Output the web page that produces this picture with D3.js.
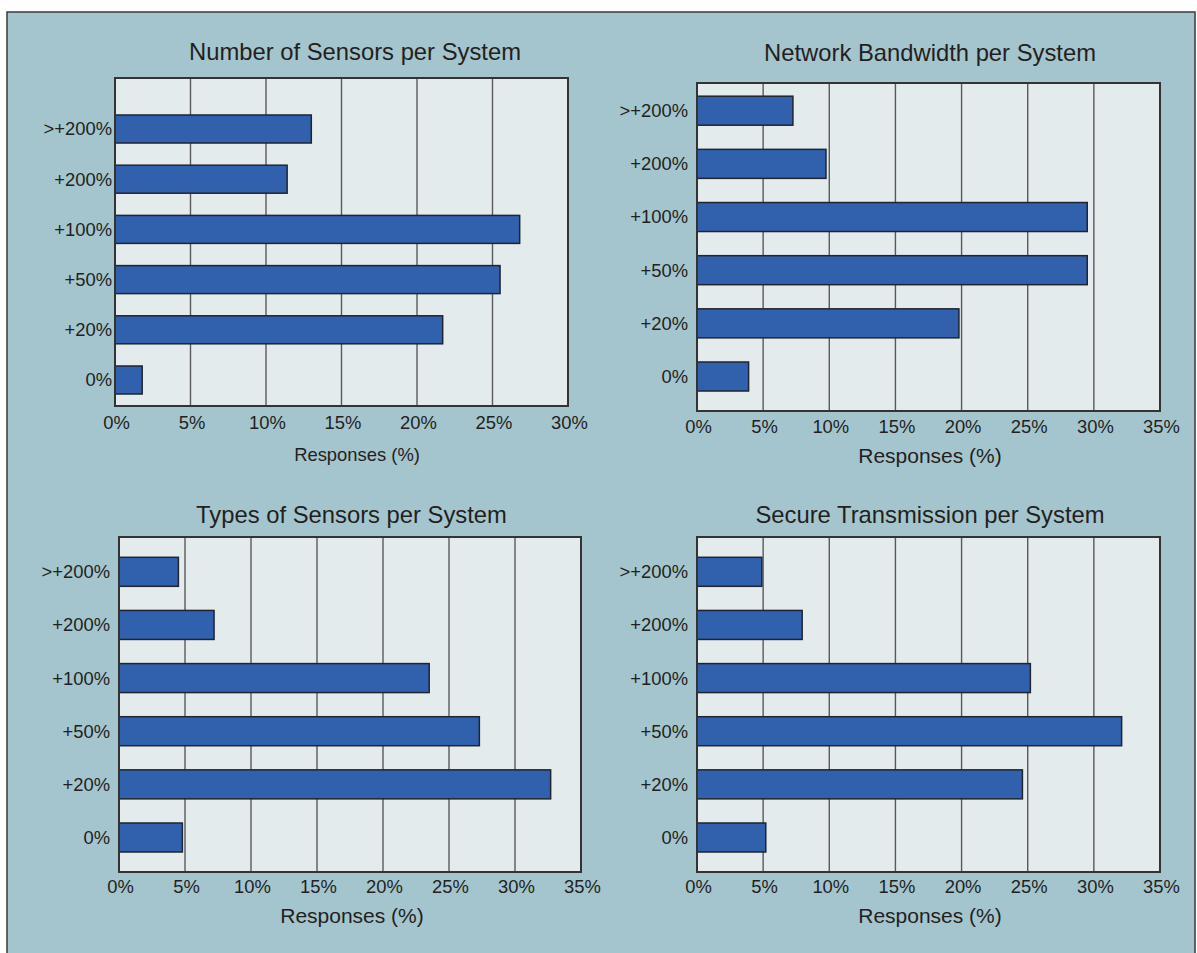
<!DOCTYPE html>
<html>
<head>
<meta charset="utf-8">
<script src="https://cdn.jsdelivr.net/npm/d3@7/dist/d3.min.js"></script>
<style>
  html, body { margin: 0; padding: 0; background: #ffffff; }
  svg { display: block; }
  text { font-family: "Liberation Sans", Arial, Helvetica, sans-serif; fill: #231f20; }
</style>
</head>
<body>
<svg id="chart" width="1197" height="953"></svg>
<script>
// Response categories, listed top to bottom
const categories = [">+200%", "+200%", "+100%", "+50%", "+20%", "0%"];

// Share of responses (%) for each category
const sensorCount   = [13.0, 11.4, 26.8, 25.5, 21.7, 1.8];
const bandwidth     = [7.25, 9.75, 29.5, 29.5, 19.8, 3.9];
const sensorTypes   = [4.5, 7.2, 23.5, 27.3, 32.7, 4.8];
const secureTx      = [4.9, 7.95, 25.2, 32.1, 24.6, 5.2];

// Axis ticks
const ticks30 = [0, 5, 10, 15, 20, 25, 30];
const ticks35 = [0, 5, 10, 15, 20, 25, 30, 35];

const titles = [
  "Number of Sensors per System",
  "Network Bandwidth per System",
  "Types of Sensors per System",
  "Secure Transmission per System"
];
const axisTitle = "Responses (%)";

const svg = d3.select("#chart");

// Outer framed background
svg.append("rect")
  .attr("x", 7).attr("y", 12)
  .attr("width", 1188).attr("height", 960)
  .attr("fill", "#a4c5ce")
  .attr("stroke", "#3a3a3a")
  .attr("stroke-width", 1.5);

const panels = [
  { title: titles[0], values: sensorCount, ticks: ticks30, max: 30,
    x: 115, y: 78, w: 453, h: 328, c0: 129, c1: 380, barH: 28,
    titleX: 355, titleY: 60, tickY: 429, axisX: 357, axisY: 461, axisSize: 18.4, labelGap: 3 },
  { title: titles[1], values: bandwidth, ticks: ticks35, max: 35,
    x: 697, y: 83, w: 463, h: 328, c0: 110.7, c1: 376.5, barH: 29,
    titleX: 930, titleY: 61, tickY: 433, axisX: 930, axisY: 463, axisSize: 21, labelGap: 9 },
  { title: titles[2], values: sensorTypes, ticks: ticks35, max: 35,
    x: 119, y: 537, w: 462, h: 335, c0: 571.8, c1: 837.5, barH: 29,
    titleX: 351.5, titleY: 523, tickY: 893, axisX: 352, axisY: 923, axisSize: 21, labelGap: 9 },
  { title: titles[3], values: secureTx, ticks: ticks35, max: 35,
    x: 697, y: 537, w: 463, h: 335, c0: 571.8, c1: 837.5, barH: 29,
    titleX: 930, titleY: 523, tickY: 893, axisX: 930, axisY: 923, axisSize: 21, labelGap: 9 }
];

panels.forEach(p => {
  const g = svg.append("g");

  const x = d3.scaleLinear().domain([0, p.max]).range([p.x, p.x + p.w]);
  const y = d3.scalePoint().domain(categories).range([p.c0, p.c1]);

  // Plot background
  g.append("rect")
    .attr("x", p.x).attr("y", p.y)
    .attr("width", p.w).attr("height", p.h)
    .attr("fill", "#e3ebed");

  // Vertical gridlines
  g.selectAll("line.grid")
    .data(p.ticks.slice(1, -1))
    .join("line")
    .attr("class", "grid")
    .attr("x1", d => x(d)).attr("x2", d => x(d))
    .attr("y1", p.y).attr("y2", p.y + p.h)
    .attr("stroke", "#5a5a5a")
    .attr("stroke-width", 1.4);

  // Bars
  const data = categories.map((c, i) => ({ c, v: p.values[i] }));
  g.selectAll("rect.bar")
    .data(data)
    .join("rect")
    .attr("class", "bar")
    .attr("x", x(0))
    .attr("y", d => y(d.c) - p.barH / 2)
    .attr("width", d => x(d.v) - x(0))
    .attr("height", p.barH)
    .attr("fill", "#3161ad")
    .attr("stroke", "#1f2430")
    .attr("stroke-width", 1.5);

  // Plot frame
  g.append("rect")
    .attr("x", p.x).attr("y", p.y)
    .attr("width", p.w).attr("height", p.h)
    .attr("fill", "none")
    .attr("stroke", "#333333")
    .attr("stroke-width", 2);

  // Category labels
  g.selectAll("text.cat")
    .data(categories)
    .join("text")
    .attr("class", "cat")
    .attr("x", p.x - p.labelGap)
    .attr("y", d => y(d))
    .attr("dy", "0.35em")
    .attr("text-anchor", "end")
    .attr("font-size", 18.4)
    .text(d => d);

  // Tick labels
  g.selectAll("text.tick")
    .data(p.ticks)
    .join("text")
    .attr("class", "tick")
    .attr("x", d => x(d) + 1.5)
    .attr("y", p.tickY)
    .attr("text-anchor", "middle")
    .attr("font-size", 18.4)
    .text(d => d + "%");

  // Axis title
  g.append("text")
    .attr("x", p.axisX)
    .attr("y", p.axisY)
    .attr("text-anchor", "middle")
    .attr("font-size", p.axisSize)
    .text(axisTitle);

  // Panel title
  g.append("text")
    .attr("x", p.titleX)
    .attr("y", p.titleY)
    .attr("text-anchor", "middle")
    .attr("font-size", 23.8)
    .text(p.title);
});
</script>
</body>
</html>
